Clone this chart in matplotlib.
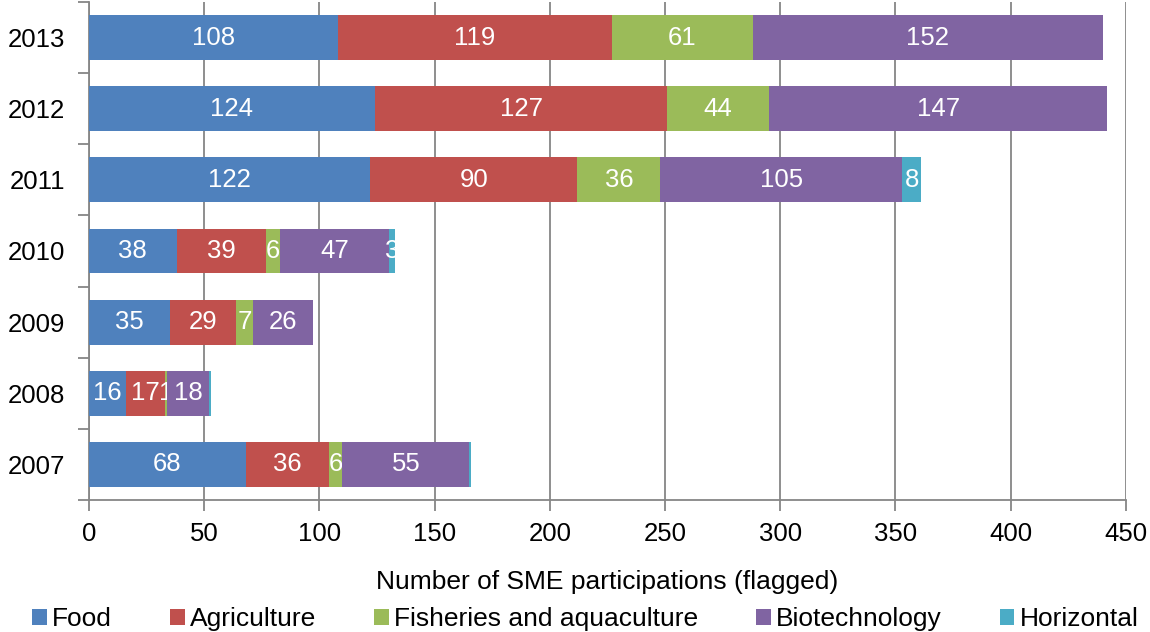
import numpy as np
import matplotlib.pyplot as plt

plt.rcParams['font.family'] = ['Liberation Sans', 'DejaVu Sans']

years = ["2007", "2008", "2009", "2010", "2011", "2012", "2013"]
food = [68, 16, 35, 38, 122, 124, 108]
agriculture = [36, 17, 29, 39, 90, 127, 119]
fisheries = [6, 1, 7, 6, 36, 44, 61]
biotech = [55, 18, 26, 47, 105, 147, 152]
horizontal = [1, 1, 0, 3, 8, 0, 0]
# which horizontal values get a label
horizontal_shown = [False, False, False, True, True, False, False]

series = [
    ("Food", food, "#4F81BD"),
    ("Agriculture", agriculture, "#C0504D"),
    ("Fisheries and aquaculture", fisheries, "#9BBB59"),
    ("Biotechnology", biotech, "#8064A2"),
    ("Horizontal", horizontal, "#4BACC6"),
]

fig = plt.figure(figsize=(11.5, 6.32), dpi=100)
ax = fig.add_axes([0.0774, 0.2089, 0.9016, 0.788])

y = np.arange(len(years))
left = np.zeros(len(years))
handles = []
for name, vals, col in series:
    vals = np.array(vals, dtype=float)
    b = ax.barh(y, vals, left=left, height=0.63, color=col, label=name, zorder=3)
    handles.append(b)
    labels = []
    for i, v in enumerate(vals):
        if v == 0 or (name == "Horizontal" and not horizontal_shown[i]):
            labels.append("")
        else:
            labels.append(str(int(v)))
    ax.bar_label(b, labels=labels, label_type="center", color="white", fontsize=18.5)
    left += vals

ax.set_xlim(0, 450)
ax.set_ylim(-0.5, 6.5)
ax.set_xticks(range(0, 451, 50))
ax.set_yticks(y)
ax.set_yticklabels(years)
ax.set_yticks(np.arange(-0.5, 7, 1), minor=True)
ax.tick_params(axis="y", which="major", length=0, labelsize=18.5, pad=17)
ax.tick_params(axis="y", which="minor", length=8, color="#868686", width=1.3)
ax.tick_params(axis="x", length=8, color="#868686", width=1.3, labelsize=18.5, pad=8)
ax.grid(axis="x", color="#868686", linewidth=1.3, zorder=0)
for s in ["top", "right"]:
    ax.spines[s].set_visible(False)
for s in ["left", "bottom"]:
    ax.spines[s].set_color("#868686")
    ax.spines[s].set_linewidth(1.3)

ax.set_xlabel("Number of SME participations (flagged)", fontsize=19, labelpad=17)

fig.legend(handles=handles, loc="lower center", ncol=5, frameon=False, fontsize=19,
           bbox_to_anchor=(0.509, -0.032), handlelength=0.56, handleheight=0.56,
           handletextpad=0.19, columnspacing=2.2, borderpad=0.3)

fig.savefig("out.png", dpi=100)
